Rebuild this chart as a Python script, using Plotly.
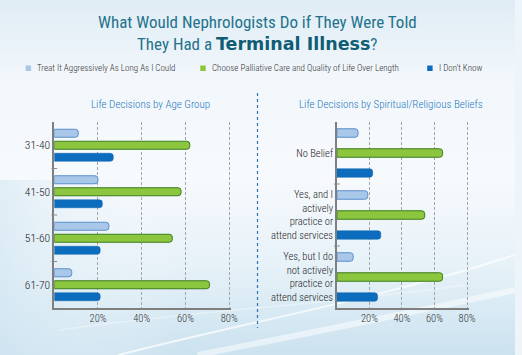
import base64
import plotly.graph_objects as go

# ---------------- data ----------------
series_names = [
    "Treat It Aggressively As Long As I Could",
    "Choose Palliative Care and Quality of Life Over Length",
    "I Don't Know",
]
age_groups = ["31-40", "41-50", "51-60", "61-70"]
age_treat = [11, 20, 25, 8]
age_palliative = [62, 58, 54, 71]
age_dontknow = [27, 22, 21, 21]

belief_groups = [
    "No Belief",
    "Yes, and I<br>actively<br>practice or<br>attend services",
    "Yes, but I do<br>not actively<br>practice or<br>attend services",
]
belief_treat = [13, 19, 10]
belief_palliative = [65, 54, 65]
belief_dontknow = [22, 27, 25]

x_tickvals = [20, 40, 60, 80]
x_ticktext = ["20%", "40%", "60%", "80%"]

# ---------------- styles ----------------
W, H = 522, 355
NARROW = "Liberation Sans Narrow, Arial Narrow, Roboto Condensed, sans-serif"
LIGHT = 300
fills = ["#a8c7e9", "#8cc53e", "#0c6dbe"]
outlines = ["#5b8ecb", "#3b7d1c", "#0a60aa"]
outline_w = [1, 1, 0.5]


def px(x):
    return x / W


def py(y):
    return 1 - y / H


fig = go.Figure()

left_vals = [age_treat, age_palliative, age_dontknow]
right_vals = [belief_treat, belief_palliative, belief_dontknow]

# left panel: category pitch ~46.5 px, bar ~8 px, spacing ~12 px
lw, lstep = 0.172, 0.258
# right panel: category pitch ~62 px, bar ~8.5 px, spacing ~20 px
rw, rstep = 0.137, 0.3226

for i, name in enumerate(series_names):
    fig.add_trace(go.Bar(
        y=age_groups, x=left_vals[i], orientation="h", name=name,
        width=lw, offset=(i - 1) * lstep - lw / 2,
        marker=dict(color=fills[i], line=dict(color=outlines[i], width=outline_w[i]), cornerradius=3),
        xaxis="x", yaxis="y", showlegend=False, hoverinfo="x+y",
    ))
    fig.add_trace(go.Bar(
        y=belief_groups, x=right_vals[i], orientation="h", name=name,
        width=rw, offset=(i - 1) * rstep - rw / 2,
        marker=dict(color=fills[i], line=dict(color=outlines[i], width=outline_w[i]), cornerradius=3),
        xaxis="x2", yaxis="y2", showlegend=False, hoverinfo="x+y",
    ))

xcommon = dict(
    range=[0, 81], tickvals=x_tickvals, ticktext=x_ticktext,
    showgrid=True, gridcolor="#a5a5a5", griddash="3px,2px", gridwidth=1,
    showline=True, linecolor="#7f7f7f", linewidth=1.5, zeroline=False,
    ticks="", tickfont=dict(family=NARROW, size=10.5, color="#333333", weight=LIGHT),
    fixedrange=True,
)
ycommon = dict(
    type="category", autorange="reversed", showgrid=False, zeroline=False,
    showline=True, linecolor="#7f7f7f", linewidth=1.5, ticks="",
    fixedrange=True,
)
ydom = [py(308), py(122)]

# background gradient image (decorative)
svg = f"""<svg xmlns='http://www.w3.org/2000/svg' width='{W}' height='{H}' viewBox='0 0 {W} {H}'>
<defs>
<linearGradient id='g' x1='0' y1='0' x2='0' y2='1'>
<stop offset='0' stop-color='#dfecf5'/>
<stop offset='0.22' stop-color='#f2f7fb'/>
<stop offset='0.5' stop-color='#f7fafd'/>
<stop offset='0.75' stop-color='#e6f1f8'/>
<stop offset='1' stop-color='#cbe2ef'/>
</linearGradient>
<linearGradient id='h' x1='0' y1='0' x2='1' y2='0'>
<stop offset='0' stop-color='#d2e6f2' stop-opacity='0.6'/>
<stop offset='0.35' stop-color='#ffffff' stop-opacity='0'/>
</linearGradient>
</defs>
<rect width='{W}' height='{H}' fill='url(#g)'/>
<rect y='180' width='{W}' height='175' fill='url(#h)'/>
<path d='M120 355 C 260 320, 380 300, 522 255' stroke='#ffffff' stroke-opacity='0.7' stroke-width='2' fill='none'/>
<path d='M200 355 C 330 330, 430 310, 522 290' stroke='#ffffff' stroke-opacity='0.5' stroke-width='6' fill='none'/>
<path d='M60 330 C 200 310, 330 305, 470 285' stroke='#ffffff' stroke-opacity='0.35' stroke-width='1.5' fill='none'/>
</svg>"""
bg_src = "data:image/svg+xml;base64," + base64.b64encode(svg.encode()).decode()

shapes = []
# separator
shapes.append(dict(type="line", xref="paper", yref="paper", x0=px(261), x1=px(261),
                   y0=py(93), y1=py(328), line=dict(color="#2f72b5", width=1.2, dash="dot")))
# category boundary ticks
for k in range(len(age_groups) - 1):
    shapes.append(dict(type="line", xref="x domain", yref="y", x0=-0.016, x1=0.016,
                       y0=k + 0.5, y1=k + 0.5, line=dict(color="#8a8a8a", width=1)))
for k in range(len(belief_groups) - 1):
    shapes.append(dict(type="line", xref="x2 domain", yref="y2", x0=-0.022, x1=0.022,
                       y0=k + 0.5, y1=k + 0.5, line=dict(color="#8a8a8a", width=1)))

# manual legend
legend_x = [26, 203, 433]
annotations = []
for i, name in enumerate(series_names):
    x0 = legend_x[i]
    shapes.append(dict(type="rect", xref="paper", yref="paper",
                       x0=px(x0), x1=px(x0 + 5.5), y0=py(71), y1=py(65.5),
                       fillcolor=fills[i], line=dict(width=0)))
    annotations.append(dict(xref="paper", yref="paper", x=px(x0 + 9.5), y=py(68),
                            xanchor="left", yanchor="middle", showarrow=False,
                            text=name, font=dict(family=NARROW, size=9, color="#333333", weight=LIGHT)))

# title
annotations.append(dict(xref="paper", yref="paper", x=px(261), y=py(22), xanchor="center",
                        yanchor="middle", showarrow=False,
                        text="What Would Nephrologists Do if They Were Told",
                        font=dict(family=NARROW, size=17, color="#23728c", weight=400)))
annotations.append(dict(xref="paper", yref="paper", x=px(261), y=py(44), xanchor="center",
                        yanchor="middle", showarrow=False,
                        text="They Had a <span style='font-family:DejaVu Sans;font-weight:bold;font-size:17.5px;color:#0f5d75'>Terminal Illness</span>?",
                        font=dict(family=NARROW, size=17, color="#23728c", weight=400)))
# panel subtitles
annotations.append(dict(xref="paper", yref="paper", x=px(153), y=py(104), xanchor="center",
                        yanchor="middle", showarrow=False, text="Life Decisions by Age Group",
                        font=dict(family=NARROW, size=11, color="#1f78c0", weight=LIGHT)))
annotations.append(dict(xref="paper", yref="paper", x=px(396), y=py(104), xanchor="center",
                        yanchor="middle", showarrow=False,
                        text="Life Decisions by Spiritual/Religious Beliefs",
                        font=dict(family=NARROW, size=11, color="#1f78c0", weight=LIGHT)))

fig.update_layout(
    width=W, height=H,
    margin=dict(l=0, r=0, t=0, b=0),
    paper_bgcolor="#eef5fa", plot_bgcolor="rgba(0,0,0,0)",
    barmode="overlay",
    showlegend=False,
    xaxis=dict(domain=[px(55), px(234.5)], anchor="y", **xcommon),
    yaxis=dict(domain=ydom, anchor="x", categoryarray=age_groups,
               tickfont=dict(family=NARROW, size=11.5, color="#222222", weight=LIGHT), **ycommon),
    xaxis2=dict(domain=[px(341.5), px(475)], anchor="y2", **xcommon),
    yaxis2=dict(domain=ydom, anchor="x2", categoryarray=belief_groups,
                tickfont=dict(family=NARROW, size=10.5, color="#222222", weight=LIGHT), **ycommon),
    shapes=shapes,
    annotations=annotations,
    images=[dict(source=bg_src, xref="paper", yref="paper", x=0, y=1, sizex=1, sizey=1,
                 xanchor="left", yanchor="top", sizing="stretch", layer="below")],
)

fig.write_html("out.html", config={"displayModeBar": False},
               post_script="document.body.style.margin='0';document.body.style.overflow='hidden';")
